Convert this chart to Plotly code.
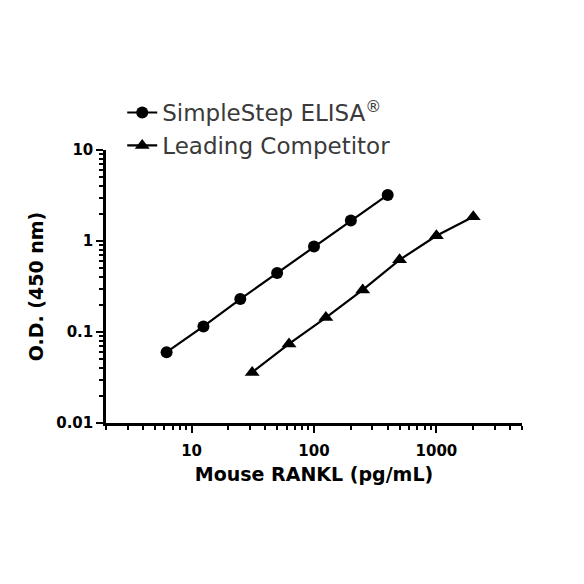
import plotly.graph_objects as go

# concentrations (pg/mL) and O.D. values
simplestep_conc = [6.25, 12.5, 25, 50, 100, 200, 400]
simplestep_od = [0.060, 0.115, 0.230, 0.444, 0.869, 1.68, 3.21]

competitor_conc = [31.25, 62.5, 125, 250, 500, 1000, 2000]
competitor_od = [0.036, 0.074, 0.144, 0.290, 0.621, 1.14, 1.85]

x_ticks = [10, 100, 1000]
x_tick_text = ['10', '100', '1000']
y_ticks = [0.01, 0.1, 1, 10]
y_tick_text = ['0.01', '0.1', '1', '10']

font_main = 'DejaVu Sans'

fig = go.Figure()

fig.add_trace(go.Scatter(
    x=simplestep_conc, y=simplestep_od,
    mode='lines+markers',
    name='SimpleStep ELISA<sup>®</sup>',
    legendgroup='a',
    line=dict(color='black', width=2.2),
    marker=dict(symbol='circle', size=12, color='black'),
))

fig.add_trace(go.Scatter(
    x=competitor_conc, y=competitor_od,
    mode='lines+markers',
    name='Leading Competitor',
    legendgroup='b',
    line=dict(color='black', width=2.2),
    marker=dict(symbol='triangle-up', size=13, color='black'),
))

# minor ticks at 2..9 of each decade
x_minor = [k * 10 ** d for d in range(0, 4) for k in range(2, 10) if 2 <= k * 10 ** d <= 5000]
y_minor = [k * 10 ** d for d in range(-2, 1) for k in range(2, 10)]

fig.update_layout(
    width=584, height=584,
    paper_bgcolor='white', plot_bgcolor='white',
    margin=dict(l=98, r=70, t=142, b=169),
    font=dict(family=font_main, color='black'),
    showlegend=True,
    legend=dict(
        x=0.039, y=1.216, xanchor='left', yanchor='top',
        font=dict(size=23, color='#3a3a3a'),
        tracegroupgap=0,
        bgcolor='rgba(0,0,0,0)',
    ),
    xaxis=dict(
        type='log',
        range=[0.301, 3.699],
        tickvals=x_ticks, ticktext=x_tick_text,
        ticks='outside', ticklen=7, tickwidth=2, tickcolor='black',
        ticklabelstandoff=5,
        showline=True, linecolor='black', linewidth=2.5,
        showgrid=False, zeroline=False,
        tickfont=dict(size=15, family=font_main, weight='bold'),
        minor=dict(tickvals=x_minor, ticks='outside', ticklen=4, tickwidth=2,
                   tickcolor='black', showgrid=False),
        title=dict(text='<b>Mouse RANKL (pg/mL)</b>', font=dict(size=19), standoff=9),
    ),
    yaxis=dict(
        type='log',
        range=[-2, 1],
        tickvals=y_ticks, ticktext=y_tick_text,
        ticks='outside', ticklen=7, tickwidth=2, tickcolor='black',
        showline=True, linecolor='black', linewidth=2.5,
        showgrid=False, zeroline=False,
        tickfont=dict(size=15, family=font_main, weight='bold'),
        minor=dict(tickvals=y_minor, ticks='outside', ticklen=4, tickwidth=2,
                   tickcolor='black', showgrid=False),
        title=dict(text='<b>O.D. (450 nm)</b>', font=dict(size=19), standoff=8),
    ),
)

fig.write_html('out.html')
